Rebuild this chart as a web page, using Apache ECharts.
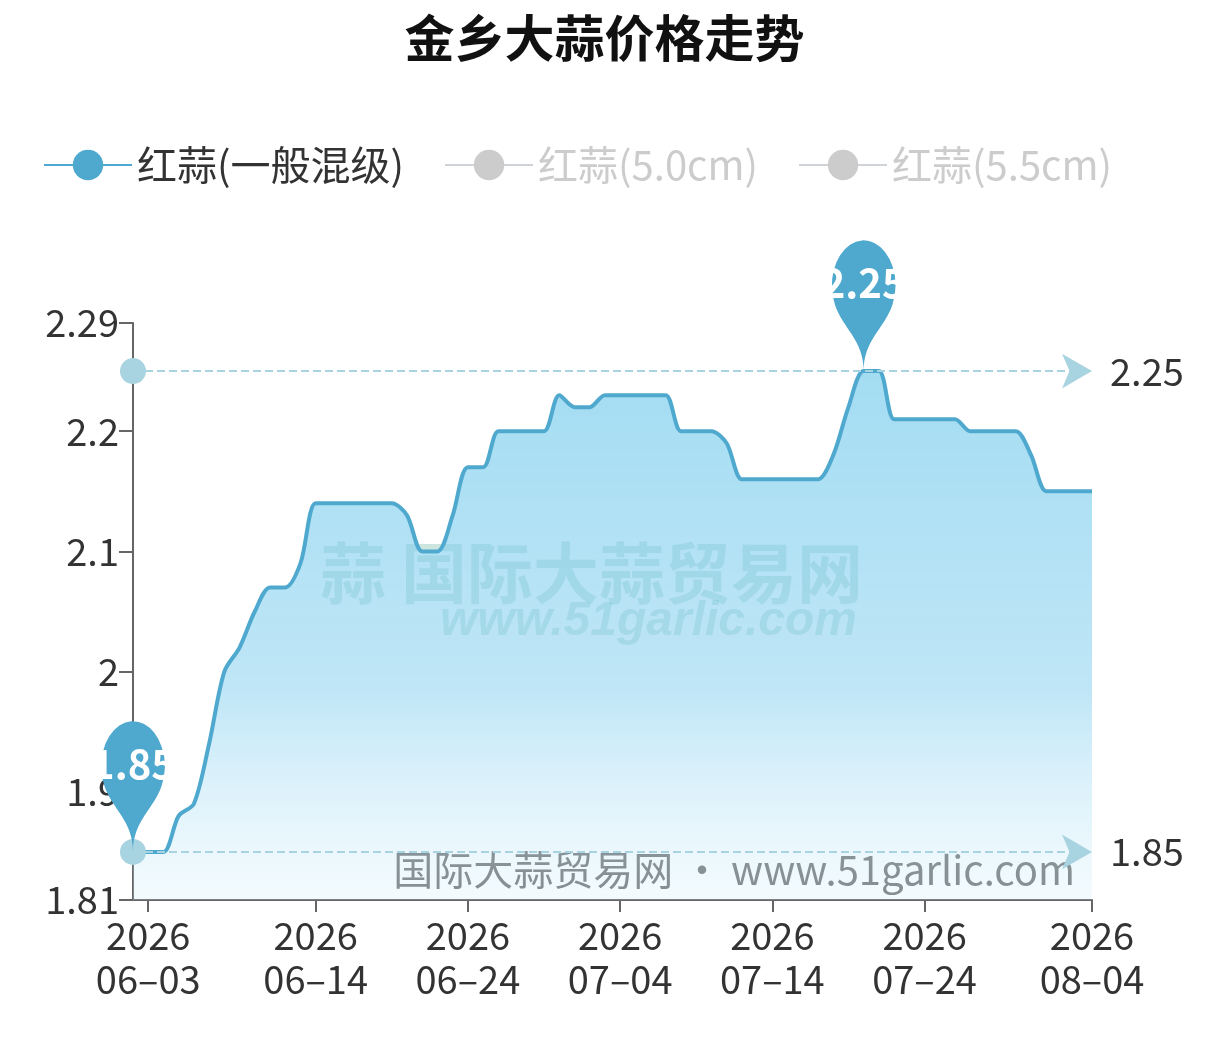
<!DOCTYPE html>
<html><head><meta charset="utf-8">
<script src="https://cdn.jsdelivr.net/npm/echarts@6/dist/echarts.min.js"></script>
<style>html,body{margin:0;padding:0;background:#fff}#c{width:1209px;height:1043px}</style>
</head><body><div id="c"></div>
<script>
const startDate = new Date(2026, 5, 2);
const values = [1.85,1.85,1.85,1.88,1.89,1.94,2.0,2.02,2.05,2.07,2.07,2.09,2.14,2.14,2.14,2.14,2.14,2.14,2.13,2.10,2.10,2.13,2.17,2.17,2.20,2.20,2.20,2.20,2.23,2.22,2.22,2.23,2.23,2.23,2.23,2.23,2.20,2.20,2.20,2.19,2.16,2.16,2.16,2.16,2.16,2.16,2.18,2.22,2.25,2.25,2.21,2.21,2.21,2.21,2.21,2.20,2.20,2.20,2.20,2.18,2.15,2.15,2.15,2.15];
const shownDates = ['06-03','06-14','06-24','07-04','07-14','07-24','08-04'];
const yTicks = [1.81,1.9,2,2.1,2.2,2.29];
const seriesNames = ['红蒜(一般混级)','红蒜(5.0cm)','红蒜(5.5cm)'];
const dates = values.map((v,i)=>{const d=new Date(startDate.getTime()+i*86400000);return String(d.getMonth()+1).padStart(2,'0')+'-'+String(d.getDate()).padStart(2,'0');});
const chart = echarts.init(document.getElementById('c'));
const blue='#4fa9cf';
const F='Noto Sans CJK SC';
chart.setOption({
  textStyle:{fontFamily:F},
  title:{text:'金乡大蒜价格走势',left:'center',top:8,textStyle:{fontSize:50,fontWeight:'bold',color:'#111',fontFamily:F}},
  legend:{top:140,left:38,itemWidth:88,itemHeight:38,itemGap:40,textStyle:{fontSize:40,color:'#333',fontFamily:F},inactiveColor:'#ccc',
    selected:{[seriesNames[1]]:false,[seriesNames[2]]:false},data:seriesNames},
  grid:{left:133,right:117,top:323,bottom:143,containLabel:false},
  xAxis:{type:'category',boundaryGap:false,data:dates,
    axisLine:{lineStyle:{color:'#666',width:2}},
    axisTick:{length:12,lineStyle:{color:'#666',width:2},interval:(i,v)=>shownDates.includes(v)},
    axisLabel:{interval:(i,v)=>shownDates.includes(v),fontSize:38,color:'#333',lineHeight:44,margin:14,fontFamily:F,formatter:v=>'2026\n'+v.replace('-','–')}},
  yAxis:{type:'value',min:1.81,max:2.29,
    axisLine:{show:true,lineStyle:{color:'#666',width:2}},
    axisTick:{show:true,length:14,lineStyle:{color:'#666',width:2},customValues:yTicks},
    axisLabel:{fontSize:38,color:'#333',margin:14,fontFamily:F,customValues:yTicks,formatter:v=>String(+v.toFixed(2))},
    splitLine:{show:false}},
  graphic:[
    {type:'text',left:320,top:540,style:{text:'蒜 国际大蒜贸易网',fontSize:66,fontWeight:'bold',fill:'rgba(90,170,150,0.3)',fontFamily:F}},
    {type:'text',left:440,top:598,style:{text:'www.51garlic.com',fontSize:48,fontStyle:'italic',fontWeight:'bold',fill:'rgba(90,170,150,0.3)'}},
    {type:'text',right:134,top:850,style:{text:'国际大蒜贸易网 · www.51garlic.com',fontSize:40,fill:'rgba(90,90,90,0.85)',fontFamily:F}}
  ],
  series:[
    {name:seriesNames[0],type:'line',data:values,smooth:0.3,symbol:'circle',symbolSize:38,showSymbol:false,color:blue,
     lineStyle:{width:4,color:blue},
     areaStyle:{color:new echarts.graphic.LinearGradient(0,0,0,1,[{offset:0,color:'rgba(110,200,235,0.9)'},{offset:0.6,color:'rgba(140,210,240,0.8)'},{offset:1,color:'rgba(200,235,250,0.3)'}])},
     markPoint:{symbol:'pin',symbolSize:[106,150],itemStyle:{color:blue},label:{fontSize:40,fontWeight:'bold',color:'#fff',offset:[0,-10]},
       data:[{type:'max',symbolOffset:[0,0]},{type:'min',symbolOffset:[0,0]}]},
     markLine:{symbol:['circle','arrow'],symbolSize:[26,30],silent:true,
       lineStyle:{type:'dashed',color:'#a8d3e0',width:2},
       itemStyle:{color:'#a8d3e0'},
       label:{position:'end',fontSize:38,color:'#333',distance:18,fontFamily:F},
       data:[{type:'max'},{type:'min'}]}},
    {name:seriesNames[1],type:'line',data:[],color:'#ccc',symbol:'circle',symbolSize:38},
    {name:seriesNames[2],type:'line',data:[],color:'#ccc',symbol:'circle',symbolSize:38}
  ]
});
</script></body></html>
